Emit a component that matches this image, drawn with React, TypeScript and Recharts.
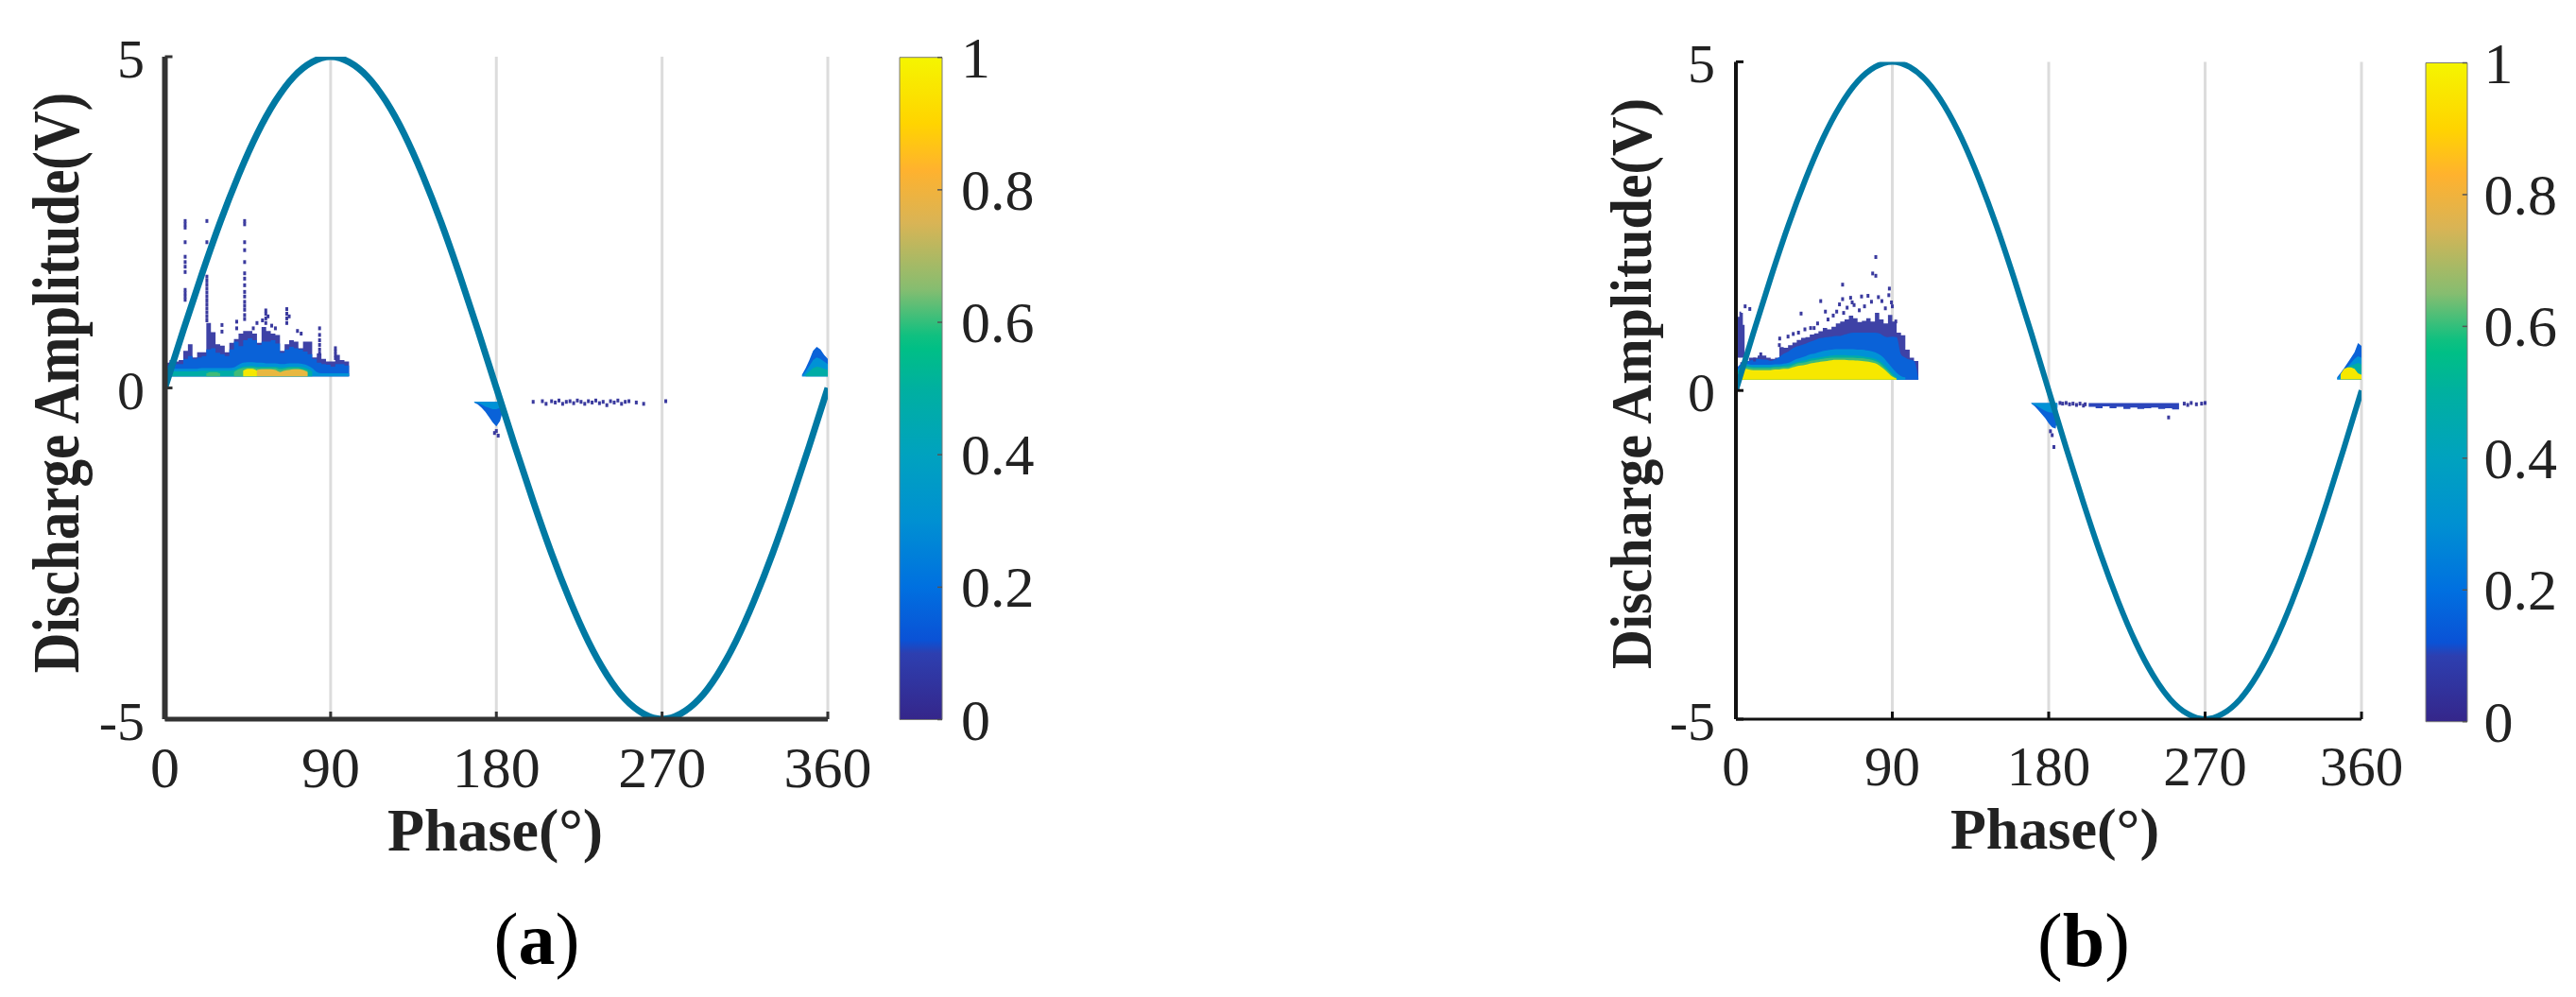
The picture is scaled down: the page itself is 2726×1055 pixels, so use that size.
import React from 'react';
import { ComposedChart, BarChart, Bar, Line, Area, Scatter, XAxis, YAxis, CartesianGrid } from 'recharts';

const FONT = '"Liberation Serif", "Times New Roman", serif';
const phaseTicks = [0, 90, 180, 270, 360];
const ampTicks = [-5, 0, 5];
const barTicks = [0, 0.2, 0.4, 0.6, 0.8, 1];

const sinePhase = [0,10,20,30,40,50,60,70,80,90,100,110,120,130,140,150,160,170,180,190,200,210,220,230,240,250,260,270,280,290,300,310,320,330,340,350,360];
const sineVolt = [0,0.87,1.71,2.5,3.21,3.83,4.33,4.7,4.92,5,4.92,4.7,4.33,3.83,3.21,2.5,1.71,0.87,0,-0.87,-1.71,-2.5,-3.21,-3.83,-4.33,-4.7,-4.92,-5,-4.92,-4.7,-4.33,-3.83,-3.21,-2.5,-1.71,-0.87,0];

const barOffsets = [0,0.1,0.17,0.25,0.35,0.42,0.44,0.5,0.6,0.7,0.8,0.88,0.9,1];
const barColors = ['#f5f500','#ffd400','#ffb22e','#d9b455','#86bd70','#10c080','#00bf86','#00b0a0','#00a2bf','#0090d2','#0070e0','#0a52d6','#2d3fb0','#35268a'];

/* panel (a) */
const aPhase = [0,2.5,5,7.5,10,12.5,15,17.5,20,22.5,25,27.5,30,32.5,35,37.5,40,42.5,45,47.5,50,52.5,55,57.5,60,62.5,65,67.5,70,72.5,75,77.5,80,82.5,85,87.5,90,92.5,95,97.5,100];
const aPurple = [0.38,0.42,0.4,0.42,0.56,0.66,0.46,0.54,0.54,0.98,0.84,0.66,0.64,0.54,0.68,0.74,0.82,0.86,0.86,0.82,0.68,0.92,0.86,0.82,0.8,0.56,0.66,0.72,0.7,0.6,0.7,0.7,0.46,0.52,0.44,0.4,0.4,0.5,0.42,0.4,0.38];
const aBlue = [0.34,0.39,0.36,0.36,0.44,0.48,0.44,0.46,0.48,0.58,0.6,0.53,0.51,0.48,0.58,0.7,0.63,0.72,0.75,0.72,0.65,0.7,0.7,0.72,0.67,0.53,0.58,0.62,0.6,0.58,0.55,0.51,0.44,0.38,0.36,0.35,0.32,0.36,0.36,0.34,0.34];
const aSky = [0.28,0.29,0.29,0.29,0.29,0.29,0.29,0.29,0.3,0.3,0.3,0.3,0.3,0.3,0.3,0.31,0.35,0.38,0.39,0.39,0.38,0.38,0.37,0.37,0.37,0.36,0.36,0.37,0.37,0.37,0.36,0.34,0.3,0.24,0.22,0.22,0.22,0.22,0.22,0.22,0.22];
const aTeal = [0.22,0.25,0.25,0.25,0.25,0.25,0.25,0.25,0.26,0.26,0.26,0.26,0.26,0.26,0.26,0.27,0.3,0.32,0.33,0.33,0.32,0.32,0.32,0.32,0.32,0.31,0.31,0.32,0.32,0.32,0.31,0.29,0.25,null,null,null,null,null,null,null,null];
const aGreen = [null,null,null,null,null,null,null,null,null,0.22,0.24,0.24,0.22,null,null,0.24,0.28,0.3,0.31,0.31,0.3,0.3,0.3,0.3,0.3,0.28,0.29,0.3,0.3,0.3,0.28,0.26,null,null,null,null,null,null,null,null,null];
const aOrangePhase = [50,52.5,55,57.5,60,62.5,65,67.5,70,72.5,75,77.5];
const aOrange = [0.27,0.28,0.28,0.28,0.27,0.24,0.26,0.27,0.28,0.28,0.27,0.24];
const aYellowPhase = [42.5,45,47.5,50];
const aYellow = [0.26,0.29,0.29,0.26];
const aNegPhase = [168,170,172,174,176,178,180,182,184];
const aNegBlue = [-0.22,-0.25,-0.3,-0.36,-0.44,-0.52,-0.58,-0.5,-0.3];
const aNegSky = [-0.22,-0.23,-0.25,-0.28,-0.3,-0.32,-0.32,-0.3,-0.25];
const aEndPhase = [346,348,350,352,354,356,358,360];
const aEndBlue = [0.2,0.3,0.42,0.56,0.62,0.58,0.5,0.44];
const aEndSky = [0.18,0.25,0.33,0.42,0.46,0.44,0.4,0.36];
const aEndTeal = [null,0.2,0.25,0.3,0.32,0.31,0.29,0.27];
const aDotPhase = [11,11,11,11,11,11,11,11,11,11,11,11,22.8,22.8,22.8,22.8,22.8,22.8,22.8,22.8,22.8,22.8,22.8,22.8,22.8,22.8,43.3,43.3,43.3,43.3,43.3,43.3,43.3,43.3,43.3,43.3,43.3,43.3,43.3,43.3,43.3,54.8,54.8,54.8,54.8,56,53,66.2,66.2,66.2,66.2,67.5,84,84,84,84,84,84,92.6,92.6,92.6,92.6,39,39,31,31,48,180,181,179,200,205,207,210,212,214,216,218,220,222,224,226,228,230,232,234,236,238,240,242,244,246,248,250,252,256,260,272,50,58,60,72,74];
const aDotVolt = [2.52,2.47,2.42,2.2,1.98,1.9,1.83,1.75,1.48,1.43,1.38,1.33,2.52,2.2,1.68,1.62,1.56,1.5,1.44,1.38,1.32,1.26,1.2,1.14,1.08,1.02,2.52,2.47,2.2,2.08,1.9,1.73,1.65,1.55,1.45,1.38,1.3,1.24,1.18,1.1,1.04,1.17,1.12,1.05,0.98,1.08,1.02,1.19,1.12,1.05,0.98,1.08,0.9,0.8,0.72,0.65,0.58,0.52,0.6,0.55,0.5,0.45,1.0,0.9,0.85,0.95,0.9,-0.65,-0.72,-0.68,-0.21,-0.2,-0.24,-0.2,-0.22,-0.19,-0.24,-0.21,-0.2,-0.23,-0.19,-0.21,-0.24,-0.2,-0.22,-0.19,-0.23,-0.21,-0.26,-0.2,-0.22,-0.19,-0.24,-0.21,-0.2,-0.22,-0.24,-0.2,0.98,0.94,0.9,0.86,0.82];

/* panel (b) */
const bPhase = [0,2.5,5,7.5,10,12.5,15,17.5,20,22.5,25,27.5,30,32.5,35,37.5,40,42.5,45,47.5,50,52.5,55,57.5,60,62.5,65,67.5,70,72.5,75,77.5,80,82.5,85,87.5,90,92.5,95,97.5,100,102.5,105];
const bPurple = [0.33,0.43,0.45,0.5,0.5,0.53,0.53,0.5,0.48,0.5,0.66,0.65,0.69,0.73,0.77,0.8,0.81,0.85,0.87,0.9,0.95,0.93,0.97,1.02,1.05,1.08,1.14,1.1,1.04,1.06,1.1,1.05,1.18,1.08,1.02,1.15,1.05,0.88,0.84,0.62,0.5,0.45,0.19];
const bBlue = [0.33,0.4,0.43,0.45,0.47,0.48,0.47,0.47,0.45,0.47,0.51,0.56,0.59,0.64,0.67,0.69,0.71,0.74,0.76,0.79,0.8,0.81,0.82,0.83,0.83,0.85,0.87,0.88,0.88,0.88,0.88,0.88,0.88,0.87,0.83,0.81,0.82,0.81,0.55,0.5,0.47,0.45,0.19];
const bSky = [0.28,0.36,0.41,0.4,0.39,0.39,0.39,0.39,0.39,0.4,0.4,0.41,0.42,0.45,0.48,0.5,0.52,0.55,0.56,0.58,0.6,0.61,0.62,0.63,0.63,0.63,0.63,0.63,0.62,0.62,0.61,0.6,0.58,0.55,0.5,0.42,0.34,0.27,0.22,0.2,null,null,null];
const bTeal = [0.25,0.33,0.38,0.37,0.36,0.36,0.36,0.36,0.36,0.37,0.37,0.38,0.39,0.41,0.43,0.45,0.46,0.48,0.49,0.5,0.51,0.52,0.53,0.54,0.54,0.54,0.53,0.53,0.53,0.52,0.51,0.5,0.48,0.45,0.4,0.33,0.26,0.2,null,null,null,null,null];
const bGreen = [0.22,0.31,0.36,0.35,0.34,0.34,0.34,0.34,0.34,0.35,0.35,0.36,0.36,0.38,0.41,0.42,0.43,0.45,0.46,0.47,0.48,0.49,0.5,0.5,0.5,0.5,0.5,0.5,0.49,0.49,0.48,0.47,0.45,0.42,0.36,0.3,0.23,0.19,null,null,null,null,null];
const bYellow = [0.2,0.28,0.33,0.32,0.31,0.31,0.31,0.31,0.31,0.32,0.32,0.33,0.33,0.35,0.37,0.38,0.39,0.41,0.42,0.43,0.44,0.45,0.46,0.465,0.465,0.465,0.46,0.46,0.455,0.45,0.44,0.43,0.415,0.38,0.33,0.27,0.21,0.18,null,null,null,null,null];
const bAxisPhase = [0,1,2,3,4,5];
const bAxisPurple = [0.95,1.12,1.2,1.18,1.0,0.72];
const bNegPhase = [170,172,174,176,178,180,182,184,185];
const bNegBlue = [-0.2,-0.24,-0.3,-0.36,-0.42,-0.5,-0.56,-0.58,-0.42];
const bNegSky = [-0.2,-0.22,-0.25,-0.28,-0.31,-0.33,-0.34,-0.32,-0.26];
const bBandPhase = [203,207,211,215,219,223,227,231,235,239,243,247,251,255];
const bBandLow = [-0.25,-0.27,-0.24,-0.27,-0.25,-0.28,-0.26,-0.28,-0.27,-0.26,-0.28,-0.27,-0.29,-0.25];
const bEndPhase = [346,348,350,352,354,356,358,360];
const bEndBlue = [0.2,0.27,0.34,0.42,0.5,0.58,0.72,0.68];
const bEndSky = [0.18,0.24,0.3,0.36,0.42,0.48,0.52,0.5];
const bEndTeal = [null,0.22,0.3,0.35,0.38,0.4,0.42,0.4];
const bEndYellow = [null,0.25,0.33,0.35,0.35,0.33,0.26,0.24];
const bDotPhase = [80.5,78.7,80.5,61.4,88.3,48.8,37.5,5.3,8,72.3,76,61.4,66,59.6,66.9,84,89.5,51.5,25.2,25,39.7,45,14.3,10.7,186.5,188,190,192,194,196,198,200,201,258,260,262,265,268,270,249,182,183,181,64,68,71,74,78,82,86,88,90,56,58,62,53,47,43,30,33,36,92];
const bDotVolt = [2.03,1.78,1.745,1.61,1.55,1.36,1.17,1.28,1.24,1.43,1.44,1.39,1.41,1.31,1.34,1.36,1.34,1.2,0.79,0.69,0.93,0.95,0.55,0.47,-0.19,-0.2,-0.19,-0.21,-0.2,-0.22,-0.2,-0.23,-0.21,-0.2,-0.22,-0.19,-0.21,-0.2,-0.19,-0.41,-0.68,-0.86,-0.62,1.26,1.3,1.22,1.28,1.35,1.42,1.25,1.45,1.28,1.14,1.2,1.18,1.08,1.02,0.95,0.82,0.86,0.88,1.05];

const C = { purple: '#3e42a6', blue: '#0a62d8', sky: '#0092d6', teal: '#00aca6', green: '#3fbb78', yellow: '#f6e800', orange: '#e8b840', band: '#2c46bb' };

const rows = (ph: number[], vals: (number | null)[]) => ph.map((phase, i) => ({ phase, v: vals[i] }));

const layersA = [
  { data: rows(aPhase, aPurple), color: C.purple, base: 0.175, type: 'stepAfter' },
  { data: rows(aPhase, aBlue), color: C.blue, base: 0.175, type: 'stepAfter' },
  { data: rows(aPhase, aSky), color: C.sky, base: 0.175, type: 'monotone' },
  { data: rows(aPhase, aTeal), color: C.teal, base: 0.175, type: 'monotone' },
  { data: rows(aPhase, aGreen), color: C.green, base: 0.175, type: 'monotone' },
  { data: rows(aOrangePhase, aOrange), color: C.orange, base: 0.175, type: 'monotone' },
  { data: rows(aYellowPhase, aYellow), color: C.yellow, base: 0.175, type: 'monotone' },
  { data: rows(aNegPhase, aNegBlue), color: C.blue, base: -0.21, type: 'linear' },
  { data: rows(aNegPhase, aNegSky), color: C.sky, base: -0.21, type: 'linear' },
  { data: rows(aEndPhase, aEndBlue), color: C.blue, base: 0.175, type: 'linear' },
  { data: rows(aEndPhase, aEndSky), color: C.sky, base: 0.175, type: 'linear' },
  { data: rows(aEndPhase, aEndTeal), color: C.teal, base: 0.175, type: 'linear' },
];
const layersB = [
  { data: rows(bPhase, bPurple), color: C.purple, base: 0.165, type: 'stepAfter' },
  { data: rows(bAxisPhase, bAxisPurple), color: C.purple, base: 0.5, type: 'stepAfter' },
  { data: rows(bPhase, bBlue), color: C.blue, base: 0.165, type: 'monotone' },
  { data: rows(bPhase, bSky), color: C.sky, base: 0.165, type: 'monotone' },
  { data: rows(bPhase, bTeal), color: C.teal, base: 0.165, type: 'monotone' },
  { data: rows(bPhase, bGreen), color: C.green, base: 0.165, type: 'monotone' },
  { data: rows(bPhase, bYellow), color: C.yellow, base: 0.165, type: 'monotone' },
  { data: rows(bNegPhase, bNegBlue), color: C.blue, base: -0.19, type: 'linear' },
  { data: rows(bNegPhase, bNegSky), color: C.sky, base: -0.19, type: 'linear' },
  { data: rows(bBandPhase, bBandLow), color: C.band, base: -0.19, type: 'stepAfter' },
  { data: rows(bEndPhase, bEndBlue), color: C.blue, base: 0.17, type: 'linear' },
  { data: rows(bEndPhase, bEndSky), color: C.sky, base: 0.17, type: 'linear' },
  { data: rows(bEndPhase, bEndTeal), color: C.teal, base: 0.17, type: 'linear' },
  { data: rows(bEndPhase, bEndYellow), color: C.yellow, base: 0.17, type: 'linear' },
];

const dotShape = (p: any) => <rect x={p.cx - 1.5} y={p.cy - 2} width={3} height={4} fill="#3a3a9e" />;
const serif = { fontFamily: FONT, fill: '#222' };

function Panel(props: any) {
  const { left, right, top, bottom, layers, dots, axisColor, axisWidth, lineWidth, xBase, xLabel, yLabel, caption, tickFs, yLabelRight } = props;
  const W = right + 130;
  const H = 1055;
  return (
    <div style={{ position: 'absolute', left: 0, top: 0 }}>
      <ComposedChart width={W} height={H} data={rows(sinePhase, sineVolt)} margin={{ left: left - 1, top, right: W - right, bottom: H - bottom - 1 }}>
        <CartesianGrid horizontal={false} stroke="#dcdcdc" strokeWidth={3} />
        <XAxis dataKey="phase" type="number" domain={[0, 360]} ticks={phaseTicks} interval={0} height={1} allowDataOverflow
          axisLine={{ stroke: axisColor, strokeWidth: axisWidth }} tickLine={{ stroke: axisColor, strokeWidth: 3 }} tickSize={-8} tickMargin={0}
          tick={(p: any) => <text x={p.x} y={xBase} textAnchor="middle" style={{ ...serif, fontSize: tickFs }}>{p.payload.value}</text>} />
        <YAxis dataKey="v" type="number" domain={[-5, 5]} ticks={ampTicks} interval={0} width={1} allowDataOverflow
          axisLine={{ stroke: axisColor, strokeWidth: axisWidth + 1 }} tickLine={{ stroke: axisColor, strokeWidth: 3 }} tickSize={-8} tickMargin={0}
          tick={(p: any) => <text x={yLabelRight} y={p.y + 22} textAnchor="end" style={{ ...serif, fontSize: 58 }}>{p.payload.value}</text>} />
        {layers.map((l: any, i: number) => (
          <Area key={i} data={l.data} dataKey="v" type={l.type} baseValue={l.base} fill={l.color} fillOpacity={1} stroke="none" dot={false} activeDot={false} isAnimationActive={false} />
        ))}
        <Scatter data={dots} dataKey="v" shape={dotShape} isAnimationActive={false} />
        <Line dataKey="v" type="natural" stroke="#0079a3" strokeWidth={lineWidth} dot={false} activeDot={false} isAnimationActive={false} />
        <text transform={`translate(${yLabel.x},${yLabel.y}) scale(${yLabel.sx},1) rotate(-90)`} textAnchor="middle" style={{ ...serif, fontWeight: 'bold', fontSize: yLabel.fs }}>Discharge Amplitude(V)</text>
        <text x={xLabel.x} y={xLabel.y} textAnchor="middle" style={{ ...serif, fontWeight: 'bold', fontSize: xLabel.fs }}>Phase(°)</text>
        <text x={caption.x} y={caption.y} textAnchor="middle" style={{ fontFamily: FONT, fill: '#000', fontSize: caption.fs }}>(<tspan fontWeight="bold">{caption.t}</tspan>)</text>
      </ComposedChart>
    </div>
  );
}

function ColorBar(props: any) {
  const { id, left, right, top, bottom, labelX } = props;
  const W = 260;
  const H = 820;
  return (
    <div style={{ position: 'absolute', left: left - 10, top: 0 }}>
      <BarChart width={W} height={H} data={[{ name: 'scale', level: 1 }]} barCategoryGap={0} margin={{ left: 10, top, right: W - 10 - (right - left) - 1, bottom: H - bottom }}>
        <defs>
          <linearGradient id={id} x1="0" y1="0" x2="0" y2="1">
            {barOffsets.map((o, i) => <stop key={i} offset={o} stopColor={barColors[i]} />)}
          </linearGradient>
        </defs>
        <XAxis dataKey="name" hide height={0} />
        <YAxis type="number" orientation="right" domain={[0, 1]} ticks={barTicks} interval={0} width={1} axisLine={false} tickLine={{ stroke: '#555', strokeWidth: 1.5 }} tickSize={-5} tickMargin={0}
          tick={(p: any) => <text x={labelX - left + 10} y={p.y + 21} textAnchor="start" style={{ ...serif, fontSize: 62 }}>{p.payload.value}</text>} />
        <Bar dataKey="level" fill={`url(#${id})`} stroke="#7a7a7a" strokeWidth={1} isAnimationActive={false} />
      </BarChart>
    </div>
  );
}

export default function App() {
  return (
    <div style={{ position: 'absolute', left: 0, top: 0, width: 2726, height: 1055, background: '#fff', overflow: 'hidden', fontFamily: FONT }}>
      <Panel left={174.5} right={876} top={60} bottom={761} layers={layersA} dots={rows(aDotPhase, aDotVolt)} axisColor="#333" axisWidth={5} lineWidth={7}
        xBase={833} tickFs={62} yLabelRight={153}
        yLabel={{ x: 83, y: 405, sx: 1.18, fs: 59 }} xLabel={{ x: 524, y: 900, fs: 64 }} caption={{ x: 568, y: 1020, fs: 78, t: 'a' }} />
      <Panel left={1837} right={2499} top={65.4} bottom={761} layers={layersB} dots={rows(bDotPhase, bDotVolt)} axisColor="#111" axisWidth={3} lineWidth={6}
        xBase={831} tickFs={59} yLabelRight={1815}
        yLabel={{ x: 1747, y: 406, sx: 1.07, fs: 58 }} xLabel={{ x: 2174.5, y: 898, fs: 62 }} caption={{ x: 2205, y: 1022, fs: 80, t: 'b' }} />
      <ColorBar id="barA" left={952} right={997} top={60.7} bottom={761.5} labelX={1017} />
      <ColorBar id="barB" left={2566.6} right={2610.4} top={66.5} bottom={763.7} labelX={2628} />
    </div>
  );
}
